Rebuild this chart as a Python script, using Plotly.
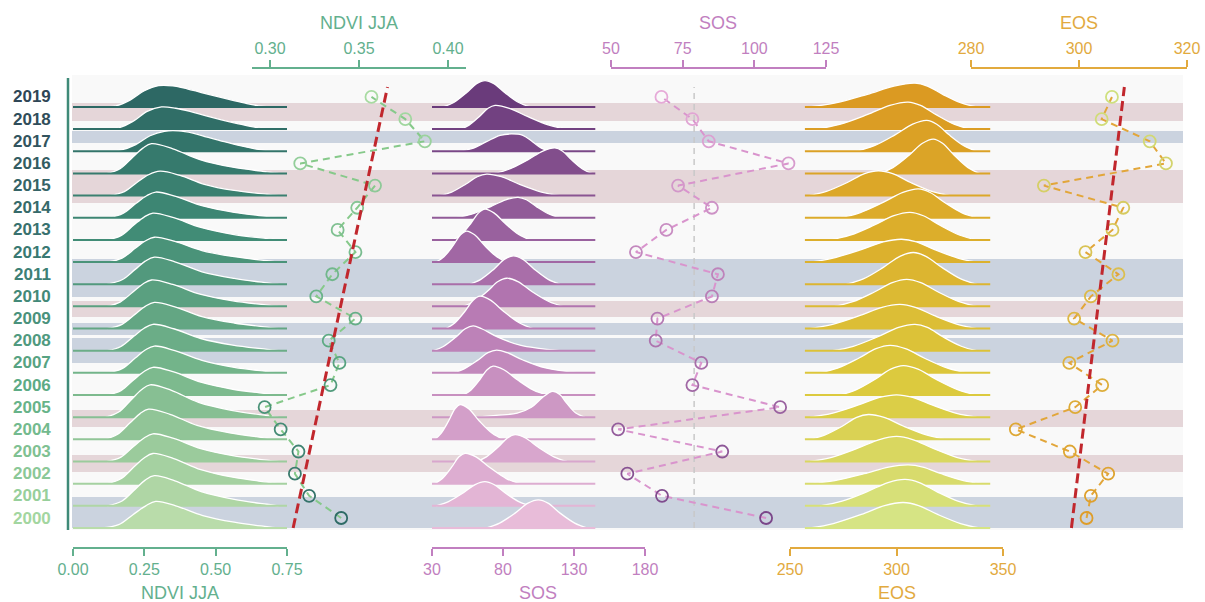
import plotly.graph_objects as go

# ---------------------------------------------------------------- data
years = list(range(2000, 2020))

# yearly means shown as dots (2000 -> 2019)
ndvi_jja = [0.340, 0.322, 0.314, 0.316, 0.306, 0.297, 0.334, 0.339, 0.333, 0.348,
            0.326, 0.335, 0.348, 0.338, 0.349, 0.359, 0.317, 0.387, 0.376, 0.357]
sos_doy = [104.1, 67.8, 55.7, 88.8, 52.5, 109.0, 78.4, 81.5, 65.6, 66.2,
           85.2, 87.3, 58.7, 69.3, 85.2, 73.4, 111.9, 84.1, 78.4, 67.6]
eos_doy = [301.4, 302.2, 305.4, 298.3, 288.3, 299.3, 304.3, 298.2, 306.2, 299.1,
           302.2, 307.3, 301.2, 306.2, 308.2, 293.5, 316.1, 313.1, 304.2, 306.1]

# trend lines (end points) and the SOS reference value
trend_years = [1999.55, 2019.45]
ndvi_trend = [0.313, 0.366]
eos_trend = [298.6, 308.4]
sos_mean = 79

# per-year density profiles: sample positions and heights (in row units)
ndvi_ridge_x = {
    2019: [0.10, 0.15, 0.20, 0.25, 0.30, 0.35, 0.40, 0.45, 0.50, 0.55, 0.60, 0.65, 0.69],
    2018: [0.11, 0.16, 0.21, 0.26, 0.31, 0.36, 0.41, 0.46, 0.52, 0.58, 0.64, 0.70],
    2017: [0.11, 0.17, 0.22, 0.27, 0.32, 0.37, 0.42, 0.47, 0.53, 0.59, 0.65, 0.71],
    2016: [0.12, 0.165, 0.21, 0.245, 0.275, 0.35, 0.445, 0.56, 0.68, 0.72],
    2015: [0.13, 0.18, 0.225, 0.265, 0.305, 0.375, 0.46, 0.565, 0.68, 0.72],
    2014: [0.125, 0.175, 0.22, 0.258, 0.29, 0.36, 0.455, 0.565, 0.68, 0.72],
    2013: [0.12, 0.168, 0.213, 0.249, 0.28, 0.353, 0.448, 0.56, 0.68, 0.72],
    2012: [0.12, 0.172, 0.218, 0.253, 0.285, 0.357, 0.452, 0.565, 0.68, 0.72],
    2011: [0.12, 0.172, 0.218, 0.253, 0.285, 0.357, 0.452, 0.565, 0.68, 0.72],
    2010: [0.12, 0.165, 0.21, 0.245, 0.275, 0.35, 0.445, 0.56, 0.68, 0.72],
    2009: [0.12, 0.172, 0.218, 0.253, 0.285, 0.357, 0.452, 0.565, 0.68, 0.72],
    2008: [0.12, 0.168, 0.213, 0.249, 0.28, 0.353, 0.448, 0.56, 0.68, 0.72],
    2007: [0.12, 0.172, 0.218, 0.253, 0.285, 0.357, 0.452, 0.565, 0.68, 0.72],
    2006: [0.12, 0.168, 0.213, 0.249, 0.28, 0.353, 0.448, 0.56, 0.68, 0.72],
    2005: [0.115, 0.16, 0.205, 0.24, 0.27, 0.345, 0.44, 0.555, 0.68, 0.72],
    2004: [0.11, 0.155, 0.20, 0.235, 0.265, 0.34, 0.435, 0.55, 0.67, 0.71],
    2003: [0.12, 0.168, 0.213, 0.249, 0.28, 0.353, 0.448, 0.56, 0.68, 0.72],
    2002: [0.12, 0.168, 0.213, 0.249, 0.28, 0.353, 0.448, 0.56, 0.68, 0.72],
    2001: [0.12, 0.172, 0.218, 0.253, 0.285, 0.357, 0.452, 0.565, 0.68, 0.72],
    2000: [0.10, 0.16, 0.21, 0.255, 0.29, 0.36, 0.455, 0.565, 0.68, 0.72],
}
ndvi_ridge_h = {
    2019: [0, 0.05, 0.31, 0.73, 0.96, 0.95, 0.82, 0.65, 0.49, 0.33, 0.18, 0.05, 0],
    2018: [0, 0.06, 0.35, 0.80, 1.00, 0.94, 0.80, 0.62, 0.42, 0.24, 0.08, 0],
    2017: [0, 0.06, 0.30, 0.70, 0.90, 0.92, 0.82, 0.64, 0.43, 0.24, 0.08, 0],
    2016: [0, 0.21, 0.74, 1.14, 1.34, 1.11, 0.62, 0.28, 0.07, 0],
    2015: [0, 0.18, 0.60, 0.94, 1.10, 0.91, 0.51, 0.23, 0.06, 0],
    2014: [0, 0.19, 0.64, 0.99, 1.16, 0.96, 0.53, 0.24, 0.06, 0],
    2013: [0, 0.19, 0.67, 1.03, 1.21, 1.00, 0.56, 0.25, 0.06, 0],
    2012: [0, 0.18, 0.62, 0.95, 1.12, 0.93, 0.52, 0.24, 0.06, 0],
    2011: [0, 0.20, 0.67, 1.04, 1.22, 1.01, 0.56, 0.26, 0.06, 0],
    2010: [0, 0.19, 0.65, 1.01, 1.19, 0.99, 0.55, 0.25, 0.06, 0],
    2009: [0, 0.19, 0.65, 1.00, 1.18, 0.98, 0.54, 0.25, 0.06, 0],
    2008: [0, 0.19, 0.65, 1.01, 1.19, 0.99, 0.55, 0.25, 0.06, 0],
    2007: [0, 0.19, 0.67, 1.03, 1.21, 1.00, 0.56, 0.25, 0.06, 0],
    2006: [0, 0.20, 0.69, 1.06, 1.25, 1.04, 0.58, 0.26, 0.06, 0],
    2005: [0, 0.23, 0.80, 1.24, 1.46, 1.21, 0.67, 0.31, 0.07, 0],
    2004: [0, 0.22, 0.75, 1.16, 1.36, 1.13, 0.63, 0.29, 0.07, 0],
    2003: [0, 0.20, 0.69, 1.06, 1.25, 1.04, 0.58, 0.26, 0.06, 0],
    2002: [0, 0.22, 0.75, 1.16, 1.36, 1.13, 0.63, 0.29, 0.07, 0],
    2001: [0, 0.22, 0.75, 1.16, 1.36, 1.13, 0.63, 0.29, 0.07, 0],
    2000: [0, 0.15, 0.60, 1.00, 1.20, 1.00, 0.56, 0.26, 0.06, 0],
}

sos_ridge_x = {
    2019: [38, 45.3, 54.1, 61.4, 67.3, 73.6, 81.6, 91.1, 99],
    2018: [50, 56.1, 63.4, 69.5, 74.4, 84.5, 97.2, 112.4, 125],
    2017: [47, 58, 68, 78, 86, 94, 101, 107, 113],
    2016: [74, 84.7, 97.4, 108.1, 116.6, 121.8, 128.3, 136, 142.5],
    2015: [35.6, 43.8, 53.7, 61.9, 68.5, 78.8, 91.7, 107.1, 120],
    2014: [47, 57.9, 71, 81.9, 90.6, 96.5, 103.8, 112.7, 120],
    2013: [45, 50.6, 57.3, 62.8, 67.3, 73.6, 81.6, 91.1, 99],
    2012: [33, 38.4, 44.8, 50.1, 54.4, 60, 67.1, 75.6, 82.6],
    2011: [56.8, 64.4, 73.6, 81.2, 87.3, 93.8, 102, 111.8, 120],
    2010: [52, 59.7, 68.8, 76.5, 82.6, 90.5, 100.3, 112.2, 122],
    2009: [40, 46, 53.1, 59, 63.8, 71.2, 80.5, 91.7, 101],
    2008: [31, 38, 46.4, 53.4, 59, 65, 76, 92, 120],
    2007: [45, 52.6, 61.8, 69.4, 75.5, 83, 94, 110, 134],
    2006: [52, 57.3, 63.6, 68.8, 73, 80.6, 90.1, 101.5, 111],
    2005: [61.5, 75, 90, 100, 108, 115, 120, 125, 131, 137.7],
    2004: [32, 36.4, 41.7, 46.2, 49.7, 55.8, 63.3, 72.4, 80],
    2003: [61.5, 68.3, 76.4, 83.1, 88.5, 95.8, 104.9, 115.9, 125],
    2002: [32, 37.3, 43.7, 49, 53.2, 61, 70.7, 82.3, 92],
    2001: [33, 41.6, 51.9, 60.4, 67.3, 73.6, 81.6, 91.1, 99],
    2000: [68.5, 77.6, 88.5, 97.6, 104.9, 111.7, 120.2, 130.5, 139],
}
sos_ridge_h = {
    2019: [0, 0.20, 0.63, 1.05, 1.19, 1.05, 0.63, 0.20, 0],
    2018: [0, 0.18, 0.57, 0.94, 1.07, 0.94, 0.57, 0.18, 0],
    2017: [0, 0.12, 0.42, 0.72, 0.78, 0.72, 0.42, 0.14, 0],
    2016: [0, 0.20, 0.61, 1.01, 1.15, 1.01, 0.61, 0.20, 0],
    2015: [0, 0.16, 0.51, 0.85, 0.97, 0.85, 0.51, 0.16, 0],
    2014: [0, 0.16, 0.49, 0.81, 0.92, 0.81, 0.49, 0.16, 0],
    2013: [0, 0.24, 0.74, 1.22, 1.39, 1.22, 0.74, 0.24, 0],
    2012: [0, 0.24, 0.74, 1.23, 1.40, 1.23, 0.74, 0.24, 0],
    2011: [0, 0.22, 0.68, 1.13, 1.28, 1.13, 0.68, 0.22, 0],
    2010: [0, 0.22, 0.67, 1.12, 1.27, 1.12, 0.67, 0.22, 0],
    2009: [0, 0.25, 0.77, 1.28, 1.46, 1.28, 0.77, 0.25, 0],
    2008: [0, 0.19, 0.59, 0.99, 1.12, 0.99, 0.62, 0.25, 0],
    2007: [0, 0.18, 0.55, 0.91, 1.03, 0.91, 0.58, 0.22, 0],
    2006: [0, 0.22, 0.69, 1.14, 1.30, 1.14, 0.69, 0.22, 0],
    2005: [0, 0.08, 0.18, 0.45, 0.90, 1.16, 1.02, 0.62, 0.20, 0],
    2004: [0, 0.27, 0.83, 1.38, 1.57, 1.38, 0.83, 0.27, 0],
    2003: [0, 0.21, 0.64, 1.06, 1.21, 1.06, 0.64, 0.21, 0],
    2002: [0, 0.23, 0.73, 1.21, 1.37, 1.21, 0.73, 0.23, 0],
    2001: [0, 0.19, 0.58, 0.96, 1.09, 0.96, 0.58, 0.19, 0],
    2000: [0, 0.22, 0.67, 1.12, 1.27, 1.12, 0.67, 0.22, 0],
}

eos_ridge_x = {
    2019: [259, 271.4, 286.3, 298.8, 308.7, 314.5, 321.7, 330.4, 337.6],
    2018: [262.5, 273.3, 286.2, 296.9, 305.5, 311.3, 318.6, 327.3, 334.5],
    2017: [281, 289.3, 299.3, 307.6, 314.2, 318.9, 324.7, 331.8, 337.6],
    2016: [292, 298.3, 305.9, 312.2, 317.3, 321.6, 327.1, 333.6, 339],
    2015: [259, 267.1, 276.9, 285, 291.5, 298.2, 306.6, 316.6, 325],
    2014: [273.5, 282.7, 293.7, 303, 310.3, 315.8, 322.6, 330.8, 337.6],
    2013: [268.8, 278.2, 289.4, 298.8, 306.3, 312.6, 320.4, 329.8, 337.6],
    2012: [259.4, 270.2, 283.1, 293.8, 302.4, 309.4, 318.2, 328.8, 337.6],
    2011: [276.6, 284.4, 293.8, 301.6, 307.9, 313.8, 321.3, 330.2, 337.6],
    2010: [271, 279.5, 289.6, 298, 304.8, 311.4, 319.6, 329.4, 337.6],
    2009: [259.4, 270, 282.6, 293.2, 301.6, 308.8, 317.8, 328.6, 337.6],
    2008: [270, 279.7, 291.3, 301, 308.7, 314.5, 321.7, 330.4, 337.6],
    2007: [264, 272.3, 282.2, 290.4, 297, 304.2, 313.2, 324, 333],
    2006: [273.5, 280.9, 289.8, 297.3, 303.2, 310.1, 318.7, 329, 337.6],
    2005: [259.4, 269.6, 281.8, 292, 300.1, 307.6, 317, 328.2, 337.6],
    2004: [259.4, 266.2, 274.5, 281.3, 286.8, 294.2, 303.4, 314.4, 323.6],
    2003: [259.4, 269.6, 281.8, 292, 300.1, 307.6, 317, 328.2, 337.6],
    2002: [259.4, 271, 284.8, 296.3, 305.5, 312.4, 321, 331.4, 340],
    2001: [264, 274, 286, 296, 304, 310.7, 319.1, 329.2, 337.6],
    2000: [259.4, 270.3, 283.5, 294.4, 303.2, 310.4, 319.3, 330.1, 339],
}
eos_ridge_h = {
    2019: [0, 0.18, 0.57, 0.94, 1.07, 0.94, 0.57, 0.18, 0],
    2018: [0, 0.21, 0.65, 1.07, 1.22, 1.07, 0.65, 0.21, 0],
    2017: [0, 0.24, 0.74, 1.22, 1.39, 1.22, 0.74, 0.24, 0],
    2016: [0, 0.26, 0.82, 1.36, 1.55, 1.36, 0.82, 0.26, 0],
    2015: [0, 0.19, 0.59, 0.99, 1.12, 0.99, 0.59, 0.19, 0],
    2014: [0, 0.22, 0.69, 1.14, 1.30, 1.14, 0.69, 0.22, 0],
    2013: [0, 0.21, 0.66, 1.09, 1.24, 1.09, 0.66, 0.21, 0],
    2012: [0, 0.18, 0.55, 0.91, 1.03, 0.91, 0.55, 0.18, 0],
    2011: [0, 0.24, 0.76, 1.26, 1.43, 1.26, 0.76, 0.24, 0],
    2010: [0, 0.21, 0.65, 1.07, 1.22, 1.07, 0.65, 0.21, 0],
    2009: [0, 0.19, 0.58, 0.96, 1.09, 0.96, 0.58, 0.19, 0],
    2008: [0, 0.20, 0.63, 1.05, 1.19, 1.05, 0.63, 0.20, 0],
    2007: [0, 0.21, 0.66, 1.09, 1.24, 1.09, 0.66, 0.21, 0],
    2006: [0, 0.23, 0.70, 1.17, 1.33, 1.17, 0.70, 0.23, 0],
    2005: [0, 0.17, 0.54, 0.89, 1.01, 0.89, 0.54, 0.17, 0],
    2004: [0, 0.19, 0.59, 0.99, 1.12, 0.99, 0.59, 0.19, 0],
    2003: [0, 0.19, 0.60, 0.99, 1.13, 0.99, 0.60, 0.19, 0],
    2002: [0, 0.14, 0.45, 0.75, 0.85, 0.75, 0.45, 0.14, 0],
    2001: [0, 0.20, 0.63, 1.05, 1.19, 1.05, 0.63, 0.20, 0],
    2000: [0, 0.20, 0.61, 1.01, 1.15, 1.01, 0.61, 0.20, 0],
}

# highlighted year bands (start, end, kind)
year_bands = [
    (2017.92, 2018.73, "pink"),
    (2016.92, 2017.46, "blue"),
    (2014.21, 2015.70, "pink"),
    (2009.97, 2011.69, "blue"),
    (2009.07, 2009.79, "pink"),
    (2008.26, 2008.80, "blue"),
    (2006.99, 2008.12, "blue"),
    (2004.11, 2004.87, "pink"),
    (2002.08, 2002.84, "pink"),
    (1999.55, 2000.95, "blue"),
]

# ---------------------------------------------------------------- styling
W, H = 1205, 602
TOP, BOTTOM = 68, 548          # plot-area edges in pixels
FONT = "Liberation Sans, Arial, sans-serif"
BASE_OFFSET = 0.45             # ridge baseline sits below the year row
BAND_COLORS = {"pink": "#e5d6d9", "blue": "#cbd3df"}

C_NDVI = "#63b08e"
C_SOS = "#c17fc0"
C_EOS = "#e2aa3e"
C_TREND = "#c1272d"


def hex_rgb(h):
    h = h.lstrip("#")
    return tuple(int(h[i:i + 2], 16) for i in (0, 2, 4))


def ramp(stops, t):
    for (p0, c0), (p1, c1) in zip(stops[:-1], stops[1:]):
        if p0 <= t <= p1:
            f = (t - p0) / (p1 - p0) if p1 > p0 else 0
            a, b = hex_rgb(c0), hex_rgb(c1)
            return "rgb(%d,%d,%d)" % tuple(round(a[i] + (b[i] - a[i]) * f) for i in range(3))
    return stops[-1][1]


# colour ramps: position 0 = 2000, 1 = 2019
ndvi_fill = [(0, "#b9dcaa"), (0.35, "#76b68b"), (0.7, "#3f8a75"), (1, "#2d6864")]
sos_fill = [(0, "#e8bcd9"), (0.5, "#b577b2"), (1, "#6a3b7b")]
eos_fill = [(0, "#d6e484"), (0.3, "#dccb3f"), (0.65, "#dcb02c"), (1, "#db9a22")]
ndvi_dot = [(0, "#2e6b66"), (0.4, "#5aa882"), (1, "#a8dba2")]
sos_dot = [(0, "#7a4689"), (0.5, "#b77cb5"), (1, "#e6aad8")]
eos_dot = [(0, "#de9d2a"), (0.5, "#ddb845"), (1, "#cfe07e")]
label_ramp = [(0, "#a3d6a0"), (0.3, "#5fae86"), (0.6, "#3a7d74"), (1, "#2f4656")]


def tpos(yr):
    return (yr - years[0]) / (years[-1] - years[0])


def pxx(x):
    return x / W


def pxy(y):
    return (BOTTOM - y) / (BOTTOM - TOP)


fig = go.Figure()

# ---------------------------------------------------------------- ridges
panels = [
    ("x", ndvi_ridge_x, ndvi_ridge_h, ndvi_fill, (0.0, 0.75)),
    ("x3", sos_ridge_x, sos_ridge_h, sos_fill, (30, 145)),
    ("x5", eos_ridge_x, eos_ridge_h, eos_fill, (257, 344)),
]
for xa, rx, rh, ramp_stops, (b0, b1) in panels:
    for yr in sorted(years, reverse=True):
        col = ramp(ramp_stops, tpos(yr))
        base = yr - BASE_OFFSET
        fig.add_trace(go.Scatter(
            x=rx[yr], y=[base + h for h in rh[yr]], xaxis=xa, yaxis="y",
            mode="lines", fill="toself", fillcolor=col,
            line=dict(color="white", width=1.3, shape="spline", smoothing=1),
            hoverinfo="skip", showlegend=False))
        fig.add_trace(go.Scatter(
            x=[b0, b1], y=[base, base], xaxis=xa, yaxis="y", mode="lines",
            line=dict(color=col, width=2), hoverinfo="skip", showlegend=False))

# ---------------------------------------------------------------- SOS reference line
fig.add_trace(go.Scatter(
    x=[sos_mean, sos_mean], y=trend_years, xaxis="x4", yaxis="y", mode="lines",
    line=dict(color="#c8c8c8", width=1.5, dash="6px,5px"), showlegend=False))

# ---------------------------------------------------------------- yearly dots
dot_sets = [
    ("x2", ndvi_jja, ndvi_dot, "#86c98a"),
    ("x4", sos_doy, sos_dot, "#d994cd"),
    ("x6", eos_doy, eos_dot, "#e2a63a"),
]
for xa, vals, ramp_stops, lcol in dot_sets:
    fig.add_trace(go.Scatter(
        x=vals, y=years, xaxis=xa, yaxis="y", mode="lines+markers",
        line=dict(color=lcol, width=2, dash="7px,5px"),
        marker=dict(symbol="circle-open", size=12,
                    color=[ramp(ramp_stops, tpos(y)) for y in years],
                    line=dict(width=1.8)),
        showlegend=False))

# ---------------------------------------------------------------- trends
fig.add_trace(go.Scatter(
    x=ndvi_trend, y=trend_years, xaxis="x2", yaxis="y", mode="lines",
    line=dict(color=C_TREND, width=3, dash="10px,5px"), showlegend=False))
fig.add_trace(go.Scatter(
    x=eos_trend, y=trend_years, xaxis="x6", yaxis="y", mode="lines",
    line=dict(color=C_TREND, width=3, dash="10px,5px"), showlegend=False))

# ---------------------------------------------------------------- background & bands
shapes = [dict(type="rect", xref="paper", yref="paper",
               x0=pxx(72), x1=pxx(1183), y0=pxy(530), y1=pxy(75),
               fillcolor="#f9f9f9", line=dict(width=0), layer="below")]
for y0, y1, kind in year_bands:
    shapes.append(dict(type="rect", xref="paper", yref="y",
                       x0=pxx(72), x1=pxx(1183), y0=y0, y1=y1,
                       fillcolor=BAND_COLORS[kind], line=dict(width=0), layer="below"))
shapes.append(dict(type="line", xref="paper", yref="paper",
                   x0=pxx(68), x1=pxx(68), y0=pxy(530), y1=pxy(78),
                   line=dict(color="#3f8a78", width=2.5)))


def axis(x0, x1, rng, ticks, labels, color, side):
    return dict(domain=[pxx(x0), pxx(x1)], range=list(rng), tickvals=ticks,
                ticktext=labels, side=side, anchor="free",
                position=0 if side == "bottom" else 1,
                showline=True, linecolor=color, linewidth=2,
                ticks="outside", ticklen=7, tickwidth=2, tickcolor=color,
                tickfont=dict(size=16, color=color, family=FONT),
                showgrid=False, zeroline=False, fixedrange=True,
                automargin=False)


annotations = []
for yr in years:
    annotations.append(dict(
        x=pxx(53), y=yr, xref="paper", yref="y", xanchor="right", yanchor="middle",
        text="<b>%d</b>" % yr, showarrow=False,
        font=dict(size=17, color=ramp(label_ramp, tpos(yr)), family=FONT)))

titles = [
    ("NDVI JJA", 359, 23, C_NDVI), ("SOS", 718, 23, C_SOS), ("EOS", 1079, 23, C_EOS),
    ("NDVI JJA", 180, 593, C_NDVI), ("SOS", 538, 593, C_SOS), ("EOS", 897, 593, C_EOS),
]
for text, x, y, col in titles:
    annotations.append(dict(
        x=pxx(x), y=pxy(y), xref="paper", yref="paper", xanchor="center",
        yanchor="middle", text=text, showarrow=False,
        font=dict(size=18, color=col, family=FONT)))

fig.update_layout(
    width=W, height=H,
    margin=dict(l=0, r=0, t=TOP, b=H - BOTTOM, pad=0, autoexpand=False),
    paper_bgcolor="white", plot_bgcolor="rgba(0,0,0,0)",
    font=dict(family=FONT),
    showlegend=False,
    shapes=shapes, annotations=annotations,
    xaxis=axis(73, 287, (0, 0.75), [0, 0.25, 0.5, 0.75],
               ["0.00", "0.25", "0.50", "0.75"], C_NDVI, "bottom"),
    xaxis2=axis(252, 466, (0.2899, 0.4101), [0.30, 0.35, 0.40],
                ["0.30", "0.35", "0.40"], C_NDVI, "top"),
    xaxis3=axis(432, 645, (30, 180), [30, 80, 130, 180],
                ["30", "80", "130", "180"], C_SOS, "bottom"),
    xaxis4=axis(611, 826, (50, 125), [50, 75, 100, 125],
                ["50", "75", "100", "125"], C_SOS, "top"),
    xaxis5=axis(790, 1003, (250, 350), [250, 300, 350],
                ["250", "300", "350"], C_EOS, "bottom"),
    xaxis6=axis(971, 1187, (280, 320), [280, 300, 320],
                ["280", "300", "320"], C_EOS, "top"),
    yaxis=dict(domain=[pxy(530), pxy(75)], range=[1999.4585, 2019.991],
               visible=False, showgrid=False, zeroline=False, fixedrange=True),
)

fig.write_html("out.html")
